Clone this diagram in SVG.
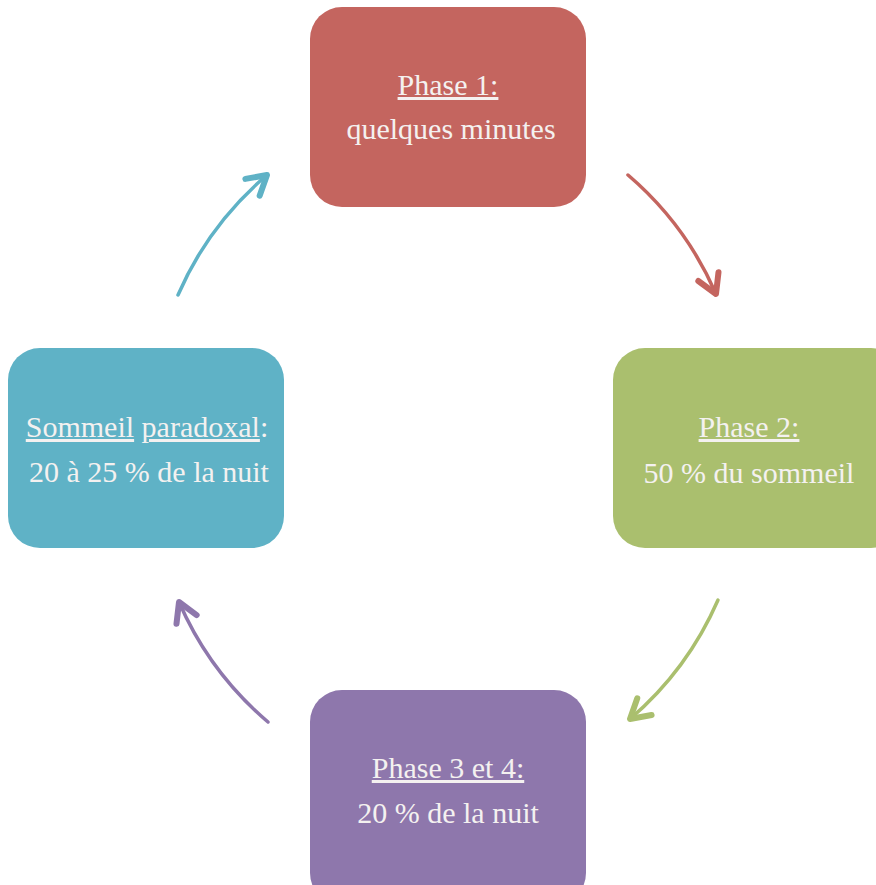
<svg xmlns="http://www.w3.org/2000/svg" width="876" height="885" viewBox="0 0 876 885">
<style>
.lbl{font-family:"Liberation Serif","DejaVu Serif",serif;font-size:30px;fill:#F4F1F0;text-anchor:middle}
.u{text-decoration:underline}
.conn{fill:none;stroke-width:3.5;stroke-linecap:round}
</style>
<defs>
<marker id="mr" markerUnits="userSpaceOnUse" viewBox="-30 -20 40 40" markerWidth="40" markerHeight="40" refX="0" refY="0" orient="auto"><polyline points="-19,-11 0,0 -19,11" fill="none" stroke="#C4655F" stroke-width="6" stroke-linecap="round" stroke-linejoin="round"/></marker>
<marker id="mg" markerUnits="userSpaceOnUse" viewBox="-30 -20 40 40" markerWidth="40" markerHeight="40" refX="0" refY="0" orient="auto"><polyline points="-19,-11 0,0 -19,11" fill="none" stroke="#AABF6E" stroke-width="6" stroke-linecap="round" stroke-linejoin="round"/></marker>
<marker id="mp" markerUnits="userSpaceOnUse" viewBox="-30 -20 40 40" markerWidth="40" markerHeight="40" refX="0" refY="0" orient="auto"><polyline points="-19,-11 0,0 -19,11" fill="none" stroke="#8E77AC" stroke-width="6" stroke-linecap="round" stroke-linejoin="round"/></marker>
<marker id="mb" markerUnits="userSpaceOnUse" viewBox="-30 -20 40 40" markerWidth="40" markerHeight="40" refX="0" refY="0" orient="auto"><polyline points="-19,-11 0,0 -19,11" fill="none" stroke="#5FB2C6" stroke-width="6" stroke-linecap="round" stroke-linejoin="round"/></marker>
</defs>
<rect width="876" height="885" fill="#FFFFFF"/>
<g id="connectors">
<path class="conn" stroke="#C4655F" marker-end="url(#mr)" d="M628,175 A330,330 0 0 1 716,294"/>
<path class="conn" stroke="#AABF6E" marker-end="url(#mg)" d="M718,600 A330,330 0 0 1 630,719"/>
<path class="conn" stroke="#8E77AC" marker-end="url(#mp)" d="M268,722 A330,330 0 0 1 179,602"/>
<path class="conn" stroke="#5FB2C6" marker-end="url(#mb)" d="M178,295 A330,330 0 0 1 267,175"/>
</g>
<g id="phase1">
<rect x="310" y="7" width="276" height="200" rx="32" fill="#C4655F"/>
<text class="lbl" x="448" y="95"><tspan class="u">Phase 1:</tspan></text>
<text class="lbl" x="451" y="139">quelques minutes</text>
</g>
<g id="phase2">
<rect x="613" y="348" width="290" height="200" rx="32" fill="#AABF6E"/>
<text class="lbl" x="749" y="437"><tspan class="u">Phase 2:</tspan></text>
<text class="lbl" x="749" y="483">50 % du sommeil</text>
</g>
<g id="phase34">
<rect x="310" y="690" width="276" height="215" rx="32" fill="#8E77AC"/>
<text class="lbl" x="448" y="778"><tspan class="u">Phase 3 et 4:</tspan></text>
<text class="lbl" x="448" y="823">20 % de la nuit</text>
</g>
<g id="paradoxal">
<rect x="8" y="348" width="276" height="200" rx="32" fill="#5FB2C6"/>
<text class="lbl" x="147" y="437"><tspan class="u">Sommeil</tspan> <tspan class="u">paradoxal</tspan>:</text>
<text class="lbl" x="149" y="482">20 à 25 % de la nuit</text>
</g>
</svg>
